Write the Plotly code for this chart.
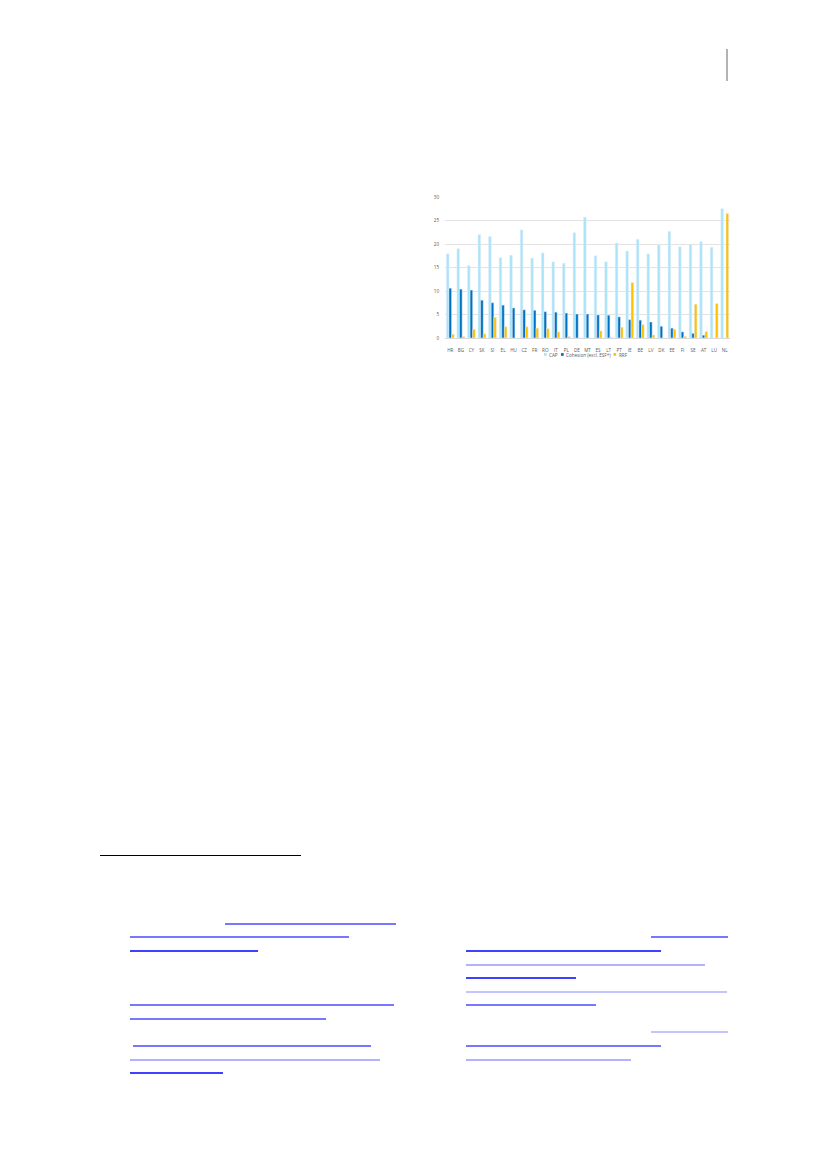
import plotly.graph_objects as go

countries = ["HR", "BG", "CY", "SK", "SI", "EL", "HU", "CZ", "FR", "RO", "IT", "PL", "DE", "MT",
             "ES", "LT", "PT", "IE", "BE", "LV", "DK", "EE", "FI", "SE", "AT", "LU", "NL"]
cap = [17.9, 19.0, 15.4, 22.0, 21.6, 17.1, 17.6, 23.0, 17.0, 18.1, 16.2, 15.9, 22.4, 25.7,
       17.5, 16.2, 20.2, 18.5, 21.0, 17.9, 19.8, 22.7, 19.4, 19.9, 20.5, 19.3, 27.5]
cohesion = [10.6, 10.4, 10.2, 8.05, 7.5, 7.0, 6.4, 6.0, 5.9, 5.6, 5.5, 5.3, 5.1, 5.1,
            4.9, 4.85, 4.5, 3.9, 3.8, 3.4, 2.5, 2.1, 1.3, 1.0, 0.6, 0.0, 0.0]
rrf = [0.8, 0.3, 1.85, 0.9, 4.4, 2.4, 0.0, 2.4, 2.1, 2.0, 1.3, 0.3, 0.0, 0.0,
       1.5, 0.15, 2.3, 11.8, 2.85, 0.65, 0.0, 1.85, 0.35, 7.2, 1.35, 7.3, 26.5]
series_names = ["CAP", "Cohesion (excl. ESF+)", "RRF"]
series_colors = ["#a9e4f9", "#0070c0", "#ffc000"]

# page geometry in pixels; the html body adds an 8px margin
OFF = 8
FW, FH = 827 - 2 * OFF, 1169 - 2 * OFF - 2
L, R, T, B = 445, 730, 197, 338


def px(x):
    return (x - L) / (R - L)


def py(y):
    return (B - y) / (B - T)


fig = go.Figure()
for name, vals, col in zip(series_names, [cap, cohesion, rrf], series_colors):
    fig.add_trace(go.Bar(x=countries, y=vals, name=name, marker_color=col, showlegend=False))

# page decorations: header rule, footnote separator, link underlines
shapes = [dict(type="line", xref="paper", yref="paper", x0=px(727), x1=px(727), y0=py(49), y1=py(81),
               line=dict(color="#9a9a9a", width=1.5))]
shapes.append(dict(type="line", xref="paper", yref="paper", x0=px(100), x1=px(301), y0=py(855.5), y1=py(855.5),
                   line=dict(color="black", width=1)))
links = [(225, 396, 924, 0.7), (130, 349, 937, 0.7), (130, 258, 951, 1.0),
         (651, 728, 937, 0.7), (466, 661, 951, 1.0), (466, 705, 965, 0.4),
         (466, 576, 978, 1.0), (466, 727, 992, 0.3), (466, 596, 1005, 0.7),
         (130, 394, 1005, 0.7), (130, 326, 1019, 0.7), (133, 371, 1046, 0.7),
         (130, 380, 1060, 0.4), (130, 223, 1073, 1.0), (651, 728, 1032, 0.3),
         (466, 661, 1046, 0.7), (466, 631, 1060, 0.4)]
for x0, x1, y, a in links:
    shapes.append(dict(type="line", xref="paper", yref="paper", x0=px(x0), x1=px(x1), y0=py(y), y1=py(y),
                       line=dict(color="blue", width=1.3), opacity=a))

# small legend drawn by hand (Excel style)
annotations = []
legend_x = [544, 561, 613.5]
for lx, name, col in zip(legend_x, series_names, series_colors):
    shapes.append(dict(type="rect", xref="paper", yref="paper", x0=px(lx), x1=px(lx + 2.7),
                       y0=py(355.8), y1=py(353.1), fillcolor=col, line=dict(width=0)))
    annotations.append(dict(text=name, xref="paper", yref="paper", x=px(lx + 3.4), y=py(354.5),
                            xanchor="left", yanchor="middle", showarrow=False,
                            font=dict(size=4.6, color="#595959")))

fig.update_layout(
    width=FW, height=FH,
    margin=dict(l=L - OFF, r=FW - (R - OFF), t=T - OFF, b=FH - (B - OFF), pad=0),
    paper_bgcolor="white", plot_bgcolor="white",
    barmode="group", bargap=0.26, bargroupgap=0,
    font=dict(family="Open Sans", size=5, color="#595959"),
    showlegend=False,
    xaxis=dict(showgrid=False, showline=True, linecolor="#d9d9d9", linewidth=1,
               tickmode="array", tickvals=countries, ticktext=countries,
               ticks="outside", ticklen=7, tickcolor="rgba(0,0,0,0)", tickfont=dict(size=4.6)),
    yaxis=dict(range=[0, 30], dtick=5, showgrid=True, gridcolor="#e3e3e3", gridwidth=0.8,
               zeroline=False, showline=False, ticks="outside", ticklen=4,
               tickcolor="rgba(0,0,0,0)", tickfont=dict(size=4.6)),
    shapes=shapes,
    annotations=annotations,
)

fig.write_html("out.html")
